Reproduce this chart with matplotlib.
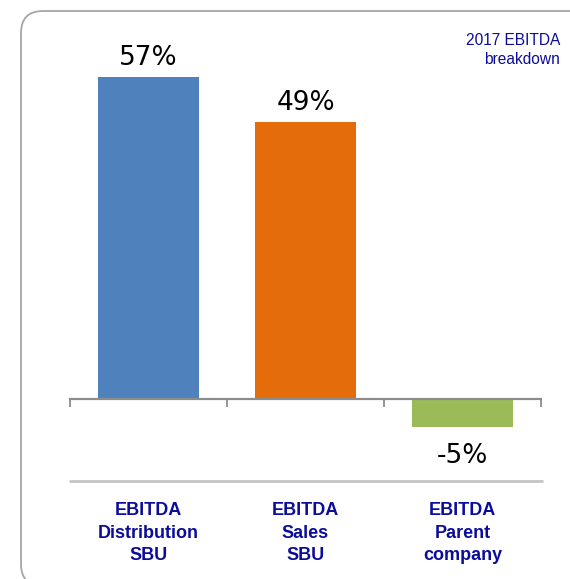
import matplotlib.pyplot as plt
from matplotlib.patches import FancyBboxPatch

categories = ['EBITDA\nDistribution\nSBU', 'EBITDA\nSales\nSBU', 'EBITDA\nParent\ncompany']
values = [57, 49, -5]
colors = ['#4f81bd', '#e46c0a', '#9bbb59']
title = '2017 EBITDA\nbreakdown'

NAVY = '#0c0c9a'
GRAY = '#8c8c8c'

fig = plt.figure(figsize=(5.7, 5.79), dpi=100)

# background layer in pixel coordinates (origin bottom-left): frame and separator
bg = fig.add_axes([0, 0, 1, 1])
bg.set_xlim(0, 570)
bg.set_ylim(0, 579)
bg.axis('off')
bg.add_patch(FancyBboxPatch((21, -7), 620, 575,
                            boxstyle='round,pad=0,rounding_size=22',
                            fill=False, edgecolor='#a6a6a6', linewidth=1.3))
bg.plot([69, 543], [98, 98], color='#c4c4c4', linewidth=2, solid_capstyle='butt')
bg.text(560, 529, title, ha='right', va='center', ma='right', fontsize=11.2,
        color=NAVY, family='Liberation Sans', linespacing=1.35)

ax = fig.add_axes([70 / 570, 109 / 579, 471 / 570, 440 / 579])
ax.patch.set_alpha(0)
x = list(range(len(values)))
ax.bar(x, values, width=0.637, color=colors)
ax.set_xlim(-0.5, len(values) - 0.5)
ax.set_ylim(-12.57, 65.3)

for side in ['top', 'right', 'left']:
    ax.spines[side].set_visible(False)
ax.spines['bottom'].set_position(('data', 0))
ax.spines['bottom'].set_color(GRAY)
ax.spines['bottom'].set_linewidth(1.6)
ax.set_yticks([])
ax.set_xticks([i - 0.5 for i in range(len(values) + 1)])
ax.set_xticklabels([])
ax.tick_params(axis='x', direction='out', length=5.5, width=1.3, color=GRAY)

for xi, v in zip(x, values):
    if v >= 0:
        ax.annotate(f'{v}%', (xi, v), xytext=(0, 8.5), textcoords='offset points',
                    ha='center', va='baseline', fontsize=19, family='DejaVu Sans')
    else:
        ax.annotate(f'{v}%', (xi, v), xytext=(0, -26), textcoords='offset points',
                    ha='center', va='baseline', fontsize=19, family='DejaVu Sans')

for xi, name in zip(x, categories):
    ax.text(xi, -63 / 440, name, transform=ax.get_xaxis_transform(),
            ha='center', va='center', ma='center', fontsize=13, fontweight='bold',
            color=NAVY, family='Liberation Sans', linespacing=1.42)

fig.savefig('out.png', dpi=100)
